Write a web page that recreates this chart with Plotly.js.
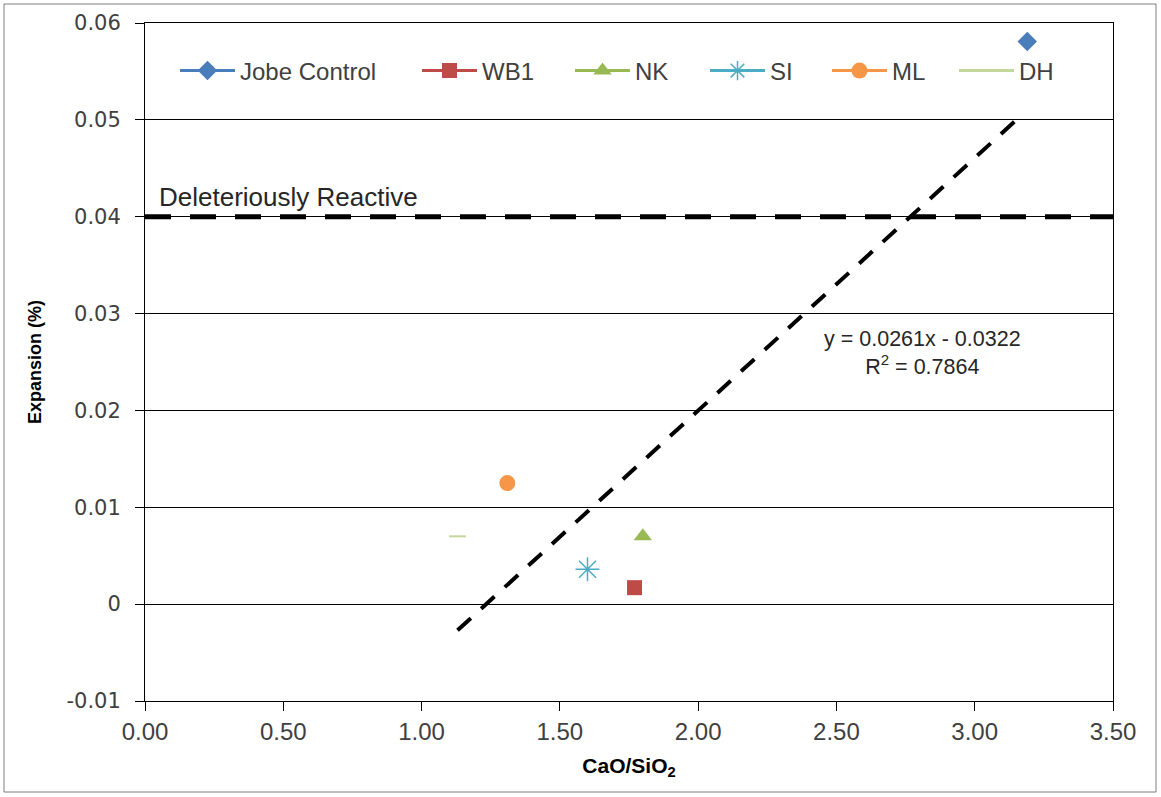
<!DOCTYPE html>
<html>
<head>
<meta charset="utf-8">
<script src="https://cdn.plot.ly/plotly-3.0.1.min.js"></script>
<style>html,body{margin:0;padding:0;background:#fff;}#chart{width:1161px;height:797px;}</style>
</head>
<body>
<div id="chart"></div>
<script>
// Data
const seriesNames = ["Jobe Control", "WB1", "NK", "SI", "ML", "DH"];
const ratioX = [3.19, 1.77, 1.80, 1.60, 1.31, 1.13];
const expansionY = [0.0581, 0.0017, 0.0070, 0.0036, 0.0125, 0.0070];
const trendX = [1.13, 3.17];
const trendY = [-0.0027, 0.0505];
const limitX = [0, 3.5];
const limitY = [0.04, 0.04];
const xTicks = [0, 0.5, 1, 1.5, 2, 2.5, 3, 3.5];
const xTickText = ["0.00", "0.50", "1.00", "1.50", "2.00", "2.50", "3.00", "3.50"];
const yTicks = [-0.01, 0, 0.01, 0.02, 0.03, 0.04, 0.05, 0.06];
const yTickText = ["-0.01", "0", "0.01", "0.02", "0.03", "0.04", "0.05", "0.06"];

const colors = ["#4a7ebb", "#be4b48", "#98b954", "#4bacc6", "#f79646", "#c3d69b"];
const symbols = ["diamond", "square", "triangle-up", "asterisk-open", "circle", "line-ew-open"];
const sizes = [15, 15, 16, 20, 16, 12];
// legend entry left positions (pixels in the figure)
const legendPx = [183, 425, 578, 713, 835, 962];

const sans = "'Liberation Sans', Arial, sans-serif";
const W = 1161, H = 797, ML = 145, MR = 48, MT = 23, MB = 96;
const PW = W - ML - MR, PH = H - MT - MB;

const legendNames = ["legend", "legend2", "legend3", "legend4", "legend5", "legend6"];

const traces = seriesNames.map((n, i) => ({
  type: "scatter",
  mode: "lines+markers",
  name: n,
  legend: legendNames[i],
  x: [ratioX[i]],
  y: [expansionY[i]],
  line: {color: colors[i], width: 3},
  marker: {
    symbol: symbols[i],
    size: sizes[i],
    color: colors[i],
    line: {color: colors[i], width: (i === 3 ? 1.5 : (i === 5 ? 2 : 0))}
  },
  showlegend: true
}));

traces.push({
  type: "scatter", mode: "lines", x: trendX, y: trendY,
  line: {color: "#000", width: 4, dash: "18px,14px"},
  showlegend: false, hoverinfo: "skip"
});
traces.push({
  type: "scatter", mode: "lines", x: limitX, y: limitY,
  line: {color: "#000", width: 5, dash: "26px,19px"},
  showlegend: false, hoverinfo: "skip"
});

const layout = {
  width: W, height: H,
  margin: {l: ML, r: MR, t: MT, b: MB},
  paper_bgcolor: "#fff", plot_bgcolor: "#fff",
  showlegend: true,
  xaxis: {
    range: [0, 3.5], tickvals: xTicks, ticktext: xTickText,
    showgrid: false, zeroline: false,
    showline: true, linecolor: "#000", linewidth: 1, mirror: true,
    ticks: "outside", ticklen: 9, tickcolor: "#000",
    tickfont: {family: sans, size: 24, color: "#404040"},
    title: {text: "<b>CaO/SiO<sub>2</sub></b>", font: {family: sans, size: 21, color: "#000"}, standoff: 14}
  },
  yaxis: {
    range: [-0.01, 0.06], tickvals: yTicks, ticktext: yTickText,
    showgrid: true, gridcolor: "#000", gridwidth: 1,
    zeroline: false,
    showline: true, linecolor: "#000", linewidth: 1, mirror: true,
    ticks: "outside", ticklen: 9, tickcolor: "#000",
    ticklabelstandoff: 10,
    tickfont: {family: "'DejaVu Sans', Verdana, sans-serif", size: 21, color: "#404040"},
    title: {text: "<b>Expansion (%)</b>", font: {family: sans, size: 18, color: "#000"}, standoff: 20}
  },
  annotations: [
    {xref: "x", yref: "y", x: 0.045, y: 0.04, xanchor: "left", yanchor: "bottom", yshift: 3,
     text: "Deleteriously Reactive", showarrow: false,
     font: {family: sans, size: 26, color: "#262626"}},
    {xref: "x", yref: "y", x: 2.81, y: 0.0259, xanchor: "center", yanchor: "middle",
     text: "y = 0.0261x - 0.0322<br>R<sup>2</sup> = 0.7864", showarrow: false,
     font: {family: sans, size: 21.5, color: "#262626"}}
  ],
  shapes: [
    {type: "rect", xref: "paper", yref: "paper",
     x0: (4 - ML) / PW, x1: (1156 - ML) / PW, y0: (H - MB - 792) / PH, y1: (H - MB - 4) / PH,
     line: {color: "#7f7f7f", width: 1}, fillcolor: "rgba(0,0,0,0)", layer: "below"}
  ]
};

legendNames.forEach((ln, i) => {
  layout[ln] = {
    orientation: "h",
    x: (legendPx[i] - 8 - ML) / PW, xanchor: "left",
    y: (H - MB - 71) / PH, yanchor: "middle",
    font: {family: sans, size: 24, color: "#404040"},
    bgcolor: "rgba(0,0,0,0)",
    itemwidth: 55
  };
});

Plotly.newPlot("chart", traces, layout, {displayModeBar: false, staticPlot: true});
</script>
</body>
</html>
